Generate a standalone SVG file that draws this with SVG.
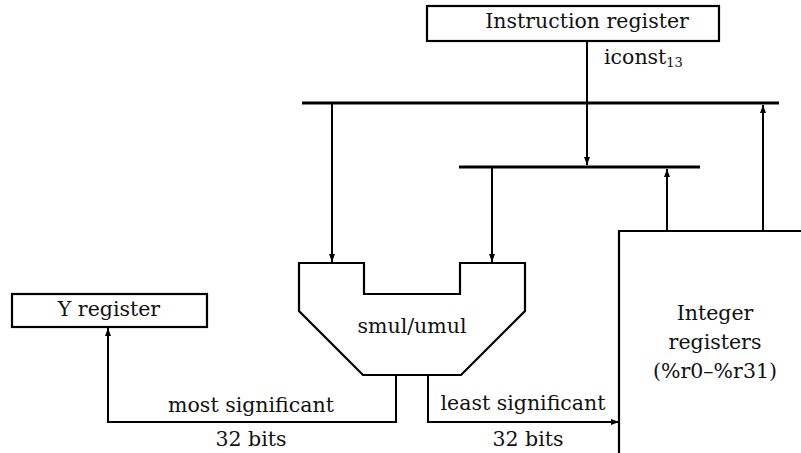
<svg xmlns="http://www.w3.org/2000/svg" width="801" height="453" viewBox="0 0 801 453">
<style>
.box{fill:#fff;stroke:#000;stroke-width:2.2}
.bus{stroke:#000;stroke-width:3.2;fill:none}
.wire{stroke:#000;stroke-width:2;fill:none}
text{font-family:"DejaVu Serif","Liberation Serif",serif;font-size:20.5px;fill:#111}
.c{text-anchor:middle}
</style>
<defs>
<marker id="ah" markerWidth="8" markerHeight="8" viewBox="0 0 8 8" refX="8" refY="4" orient="auto" markerUnits="userSpaceOnUse">
<path d="M0,1 L8,4 L0,7 z" fill="#000"/>
</marker>
</defs>
<g id="connectors">
<line class="bus" x1="302" y1="103" x2="779" y2="103"/>
<line class="bus" x1="459" y1="167" x2="700" y2="167"/>
<line class="wire" x1="587" y1="41" x2="587" y2="165" marker-end="url(#ah)"/>
<line class="wire" x1="332" y1="104" x2="332" y2="262" marker-end="url(#ah)"/>
<line class="wire" x1="492" y1="168" x2="492" y2="262" marker-end="url(#ah)"/>
<line class="wire" x1="667" y1="231" x2="667" y2="169" marker-end="url(#ah)"/>
<line class="wire" x1="763" y1="231" x2="763" y2="105" marker-end="url(#ah)"/>
<polyline class="wire" points="396,375 396,422 108,422 108,328" marker-end="url(#ah)"/>
<polyline class="wire" points="428,375 428,422 619,422" marker-end="url(#ah)"/>
<text class="c" x="251" y="412">most significant</text>
<text class="c" x="251" y="446">32 bits</text>
<text class="c" x="523" y="410">least significant</text>
<text class="c" x="528" y="446">32 bits</text>
</g>
<g id="instruction-register">
<rect class="box" x="427" y="6" width="292" height="35"/>
<text class="c" x="587" y="28">Instruction register</text>
<text x="604" y="64">iconst<tspan font-size="13" dy="3">13</tspan></text>
</g>
<g id="alu">
<path class="box" d="M299,263 L364,263 L364,294 L460,294 L460,263 L525,263 L525,311 L461,375 L363,375 L299,311 Z"/>
<text class="c" x="412" y="333">smul/umul</text>
</g>
<g id="y-register">
<rect class="box" x="12" y="294" width="195" height="33"/>
<text class="c" x="109" y="316">Y register</text>
</g>
<g id="integer-registers">
<path class="box" d="M619,460 L619,231 L810,231"/>
<text class="c" x="715" y="320">Integer</text>
<text class="c" x="715" y="349">registers</text>
<text class="c" x="715" y="378">(%r0–%r31)</text>
</g>
</svg>
